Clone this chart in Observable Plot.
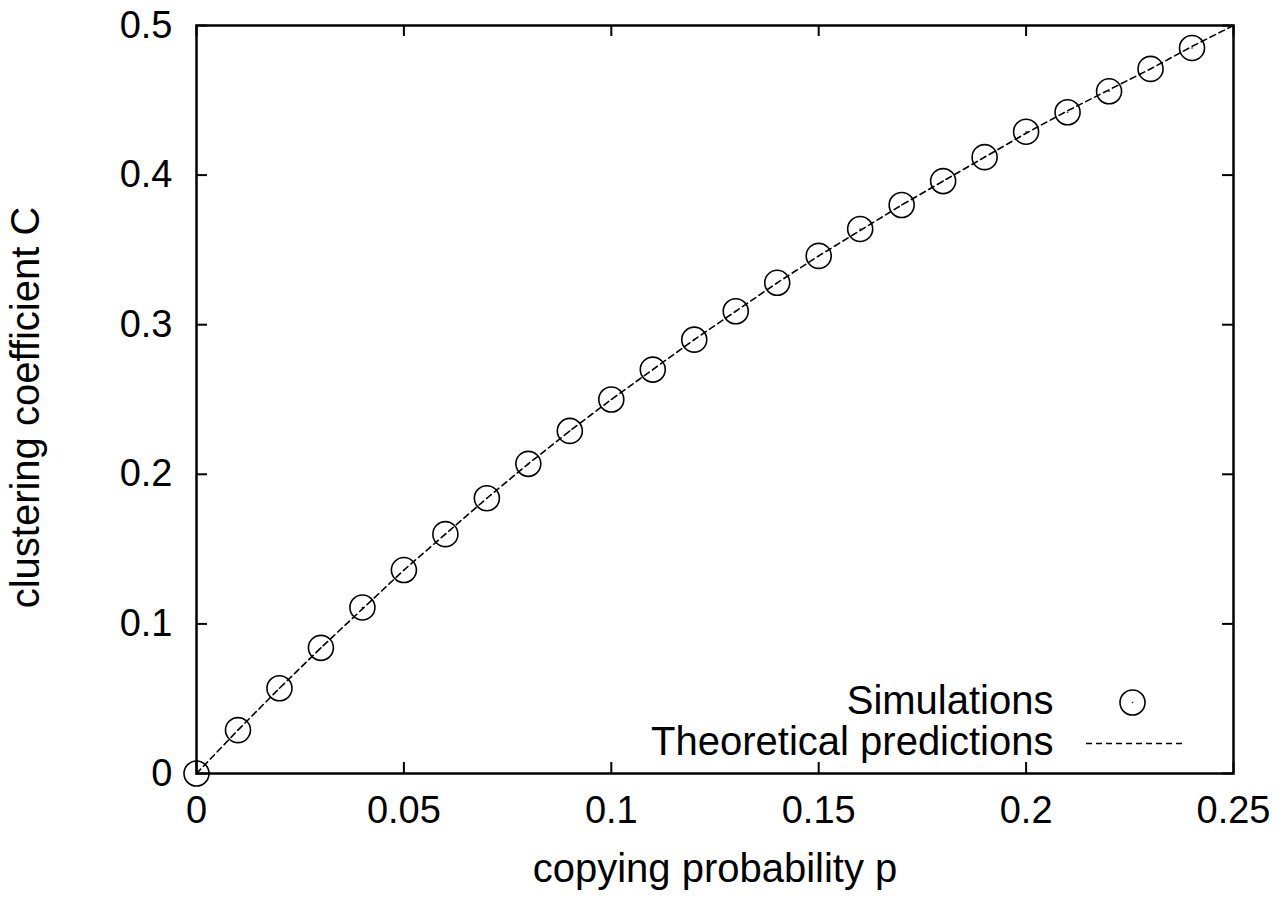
<!DOCTYPE html>
<html>
<head>
<meta charset="utf-8">
<script src="https://cdn.jsdelivr.net/npm/d3@7"></script>
<script src="https://cdn.jsdelivr.net/npm/@observablehq/plot@0.6"></script>
<style>
  html, body { margin: 0; padding: 0; background: #fff; }
</style>
</head>
<body>
<div id="chart"></div>
<script>
// Simulation data: copying probability p vs clustering coefficient C
const pSim = [0, 0.01, 0.02, 0.03, 0.04, 0.05, 0.06, 0.07, 0.08, 0.09, 0.10, 0.11, 0.12,
              0.13, 0.14, 0.15, 0.16, 0.17, 0.18, 0.19, 0.20, 0.21, 0.22, 0.23, 0.24];
const cSim = [0, 0.029, 0.057, 0.084, 0.111, 0.136, 0.160, 0.184, 0.207, 0.229, 0.250, 0.270, 0.290,
              0.309, 0.328, 0.346, 0.364, 0.380, 0.396, 0.412, 0.429, 0.442, 0.456, 0.471, 0.485];
// Theoretical prediction curve
const pTheory = [0, 0.01, 0.02, 0.03, 0.04, 0.05, 0.06, 0.07, 0.08, 0.09, 0.10, 0.11, 0.12,
                 0.13, 0.14, 0.15, 0.16, 0.17, 0.18, 0.19, 0.20, 0.21, 0.22, 0.23, 0.24, 0.25];
const cTheory = [0, 0.029, 0.057, 0.084, 0.110, 0.136, 0.160, 0.184, 0.207, 0.229, 0.250, 0.270, 0.290,
                 0.309, 0.328, 0.346, 0.363, 0.380, 0.396, 0.412, 0.428, 0.443, 0.457, 0.471, 0.486, 0.500];
// Axis ticks
const xTicks = [0, 0.05, 0.1, 0.15, 0.2, 0.25];
const xTickLabels = ["0", "0.05", "0.1", "0.15", "0.2", "0.25"];
const yTicks = [0, 0.1, 0.2, 0.3, 0.4, 0.5];
const yTickLabels = ["0", "0.1", "0.2", "0.3", "0.4", "0.5"];
const xLabel = "copying probability p";
const yLabel = "clustering coefficient C";
const legendLabels = ["Simulations", "Theoretical predictions"];

const sim = pSim.map((p, i) => ({p, c: cSim[i]}));
const theory = pTheory.map((p, i) => ({p, c: cTheory[i]}));

const chart = Plot.plot({
  width: 1284,
  height: 897,
  marginLeft: 196,
  marginRight: 51,
  marginTop: 25,
  marginBottom: 124,
  style: {fontFamily: "'Liberation Sans', Arial, Helvetica, sans-serif", fontSize: "38px", color: "#000", background: "#fff"},
  x: {domain: [0, 0.25]},
  y: {domain: [0, 0.5]},
  marks: [
    Plot.axisX(xTicks, {tickSize: 0, tickPadding: 23, label: null, tickFormat: d => xTickLabels[xTicks.indexOf(d)], fontSize: 38}),
    Plot.axisY(yTicks, {tickSize: 0, tickPadding: 24, label: null, tickFormat: d => yTickLabels[yTicks.indexOf(d)], fontSize: 38}),
    // inward ticks, all four sides
    Plot.ruleX(xTicks, {x: d => d, insetTop: 737, stroke: "#000", strokeWidth: 2}),
    Plot.ruleX(xTicks, {x: d => d, insetBottom: 737, stroke: "#000", strokeWidth: 2}),
    Plot.ruleY(yTicks, {y: d => d, insetRight: 1026, stroke: "#000", strokeWidth: 2}),
    Plot.ruleY(yTicks, {y: d => d, insetLeft: 1026, stroke: "#000", strokeWidth: 2}),
    Plot.frame({stroke: "#000", strokeWidth: 2.5}),
    // theory line
    Plot.line(theory, {x: "p", y: "c", stroke: "#000", strokeWidth: 1.6, strokeDasharray: "6,4"}),
    // simulations
    Plot.dot(sim, {x: "p", y: "c", r: 12.5, stroke: "#000", strokeWidth: 1.6, fill: "none"}),
    Plot.dot(sim, {x: "p", y: "c", r: 0.8, fill: "#000", stroke: "none"}),
    // axis labels
    Plot.text([xLabel], {text: d => d, frameAnchor: "bottom", lineAnchor: "bottom", dy: 108, fontSize: 40, fill: "#000"}),
    Plot.text([yLabel], {text: d => d, frameAnchor: "left", textAnchor: "middle", lineAnchor: "middle", dx: -170, dy: 8, rotate: -90, fontSize: 40, fill: "#000"}),
    // legend
    Plot.text([legendLabels[0]], {text: d => d, frameAnchor: "bottom-right", textAnchor: "end", lineAnchor: "bottom", dx: -180, dy: -60, fontSize: 40, fill: "#000"}),
    Plot.text([legendLabels[1]], {text: d => d, frameAnchor: "bottom-right", textAnchor: "end", lineAnchor: "bottom", dx: -180, dy: -19, fontSize: 40, fill: "#000"}),
    Plot.dot([legendLabels[0]], {frameAnchor: "bottom-right", dx: -101, dy: -71, r: 12.5, stroke: "#000", strokeWidth: 1.6, fill: "none"}),
    Plot.dot([legendLabels[0]], {frameAnchor: "bottom-right", dx: -101, dy: -71, r: 0.8, fill: "#000", stroke: "none"}),
    Plot.ruleY([0], {dy: -30, insetLeft: 890, insetRight: 50, stroke: "#000", strokeWidth: 1.6, strokeDasharray: "6,4"})
  ]
});
document.getElementById("chart").appendChild(chart);
</script>
</body>
</html>
